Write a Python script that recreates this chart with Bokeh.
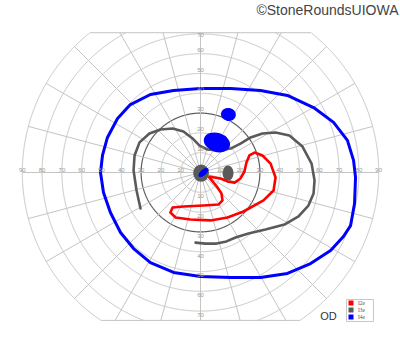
import numpy as np
from bokeh.plotting import figure
from bokeh.models import Range1d, Label
from bokeh.embed import file_html
from bokeh.resources import INLINE
from bokeh.core.properties import value

# ---- data (visual field degrees: x = horizontal, y = vertical) ----
circle_radii = [10, 20, 30, 40, 50, 60, 70, 80, 90]
h_tick_labels = ["10", "20", "30", "40", "50", "60", "70", "80", "90"]
v_tick_values = [10, 20, 30, 40, 50, 60, 70]
v_tick_labels = ["10", "20", "30", "40", "50", "60", "70"]
meridian_angles = list(range(0, 360, 15))

# I4e isopter (blue, closed)
i4e_x = [0, 15.2, 30.3, 43.9, 57.1, 67.2, 74.2, 77.3, 78.3, 77.8, 75.8, 72.2, 65.7, 55.6,
         43.9, 30.3, 15.2, 0, -13.6, -25.3, -33.8, -40.4, -45.5, -49.0, -50.5, -49.5,
         -47.0, -41.9, -35.4, -25.3, -13.6, 0]
i4e_y = [42.4, 42.4, 41.4, 38.9, 32.8, 25.3, 16.2, 6.1, -2.5, -15.7, -26.8, -32.3, -39.4, -46.0,
         -51.0, -53.0, -53.0, -52.5, -50.5, -45.5, -38.4, -30.3, -20.2, -10.1, 0, 8.6,
         17.7, 27.3, 34.3, 39.4, 41.4, 42.4]

# I3e isopter (gray, open)
i3e_x = [-30.3, -32.3, -33.8, -33.3, -30.8, -25.8, -20.2, -14.1, -8.6, -4.0, -0.5, 3.5, 9.1,
         15.2, 20.2, 25.3, 31.3, 37.9, 44.9, 51.5, 56.1, 57.6, 57.1, 54.5, 49.5, 42.4, 32.8,
         24.2, 17.7, 13.1, 8.1, 2.5, -2.5]
i3e_y = [-18.2, -9.1, 1.0, 8.6, 15.2, 19.7, 21.7, 22.2, 20.7, 17.2, 13.6, 11.6, 11.1,
         12.1, 14.6, 17.7, 19.7, 20.2, 18.7, 13.1, 4.5, -4.0, -10.6, -16.7, -22.2, -26.3, -28.8,
         -30.8, -32.8, -34.8, -35.9, -35.9, -35.4]

# I2e isopter (red, closed)
i2e_x = [4.0, 7.1, 10.1, 13.6, 17.2, 20.2, 22.2, 23.2, 24.7, 27.3, 31.3, 35.4, 37.9, 36.9,
         31.8, 21.7, 13.6, 5.1, -5.1, -12.6, -15.2, -14.1, -8.6, 1.5, 9.1, 11.1, 10.6, 8.6,
         6.1, 4.0]
i2e_y = [-2.0, -2.5, -3.0, -4.5, -5.1, -3.0, 0.5, 5.1, 8.6, 10.1, 8.6, 4.5, -2.5, -9.1,
         -14.1, -19.7, -22.7, -24.2, -23.7, -22.7, -20.2, -17.7, -17.2, -16.7, -16.2, -14.1,
         -10.6, -7.6, -4.5, -2.0]

# scotomas / filled areas (center x, center y, width, height, angle in degrees)
gray_spot_x = [0.3, 13.9]
gray_spot_y = [-0.3, -0.3]
gray_spot_w = [8.0, 5.6]
gray_spot_h = [8.8, 7.6]
blue_spot_x = [1.5, 14.1, 8.3]
blue_spot_y = [0.0, 29.3, 15.2]
blue_spot_w = [6.2, 6.6, 13.6]
blue_spot_h = [3.0, 7.6, 9.6]
blue_spot_a = [40, 80, -18]

legend_labels = ["I2e", "I3e", "I4e"]
legend_colors = ["#ff0000", "#5a5a5a", "#0000ff"]

# ---- layout constants ----
SCALE = 1.98  # px per degree
CX, CY = 200, 172  # chart centre in px
TOP_CLIP = 70.6
BOT_CLIP = -74.7
GRID = "#c4c4c4"


def px_x(px):
    return (px - CX) / SCALE


def px_y(py):
    return (CY - py) / SCALE


p = figure(width=400, height=352, x_range=Range1d(px_x(0), px_x(400)),
           y_range=Range1d(px_y(352), px_y(0)),
           x_axis_type=None, y_axis_type=None, output_backend="svg",
           toolbar_location=None, min_border=0, outline_line_color=None)
p.grid.visible = False

# circles clipped to the chart frame
th = np.linspace(0, 2 * np.pi, 1441)
for r in circle_radii:
    cx = r * np.cos(th)
    cy = r * np.sin(th)
    mask = (cy > TOP_CLIP) | (cy < BOT_CLIP)
    cx = np.where(mask, np.nan, cx)
    cy = np.where(mask, np.nan, cy)
    if r == 30:
        p.line(cx, cy, line_color="#5e5e5e", line_width=1.2)
    else:
        p.line(cx, cy, line_color=GRID, line_width=1)

# flat top / bottom edges
rmax = max(circle_radii)
for yc in (TOP_CLIP, BOT_CLIP):
    hx = np.sqrt(rmax ** 2 - yc ** 2)
    p.line([-hx, hx], [yc, yc], line_color=GRID, line_width=1)

# meridians
for a in meridian_angles:
    t = np.deg2rad(a)
    s, c = np.sin(t), np.cos(t)
    rr = rmax
    if s > 1e-9:
        rr = min(rr, TOP_CLIP / s)
    elif s < -1e-9:
        rr = min(rr, BOT_CLIP / s)
    p.line([0, rr * c], [0, rr * s], line_color=GRID, line_width=1)

# tick labels
lab_kw = dict(text_font_size="6px", text_color="#9a9a9a", text_align="center",
              text_baseline="middle", text_font="Liberation Sans")
for r, t in zip(circle_radii, h_tick_labels):
    for sgn in (-1, 1):
        p.add_layout(Label(x=sgn * r, y=1.5, text=t, **lab_kw))
for r, t in zip(v_tick_values, v_tick_labels):
    p.add_layout(Label(x=0, y=min(r + 2, TOP_CLIP - 1.2), text=t, **lab_kw))
    p.add_layout(Label(x=0, y=-(r + 2), text=t, **lab_kw))

# isopters
p.line(i4e_x, i4e_y, line_color=legend_colors[2], line_width=3, line_join="round")
p.line(i3e_x, i3e_y, line_color=legend_colors[1], line_width=2.6, line_join="round",
       line_cap="round")
p.ellipse(gray_spot_x, gray_spot_y, width=gray_spot_w, height=gray_spot_h,
          fill_color=legend_colors[1], line_color=None)
p.line(i2e_x, i2e_y, line_color=legend_colors[0], line_width=2.6, line_join="round")
p.ellipse(blue_spot_x, blue_spot_y, width=blue_spot_w, height=blue_spot_h,
          angle=blue_spot_a, angle_units="deg", fill_color=legend_colors[2], line_color=None)

# legend box (drawn by hand so the swatches are filled squares)
p.rect(x=[px_x(359.5)], y=[px_y(310)], width=27, height=22, width_units="screen",
       height_units="screen", fill_color="white", line_color="#c8c8c8", line_width=1)
n = len(legend_labels)
row_py = [302.5 + 7 * i for i in range(n)]
p.rect(x=[px_x(350.5)] * n, y=[px_y(v) for v in row_py], width=5, height=5,
       width_units="screen", height_units="screen", fill_color=legend_colors,
       line_color=None)
p.text(x=[px_x(357.5)] * n, y=[px_y(v) for v in row_py], text=legend_labels,
       text_font_size="5.5px", text_color="#555555", text_baseline="middle",
       text_font=value("Liberation Serif"))

# texts
p.add_layout(Label(x=px_x(328), y=px_y(321), text="OD",
                   text_font_size="11px", text_color="#333333", text_align="center",
                   text_baseline="bottom", text_font="Liberation Sans"))
p.add_layout(Label(x=px_x(398), y=px_y(1.5), text="©StoneRoundsUIOWA",
                   text_font_size="14px", text_color="#444444", text_align="right",
                   text_baseline="top", text_font="Liberation Sans"))

open("out.html", "w").write(file_html(p, INLINE))
